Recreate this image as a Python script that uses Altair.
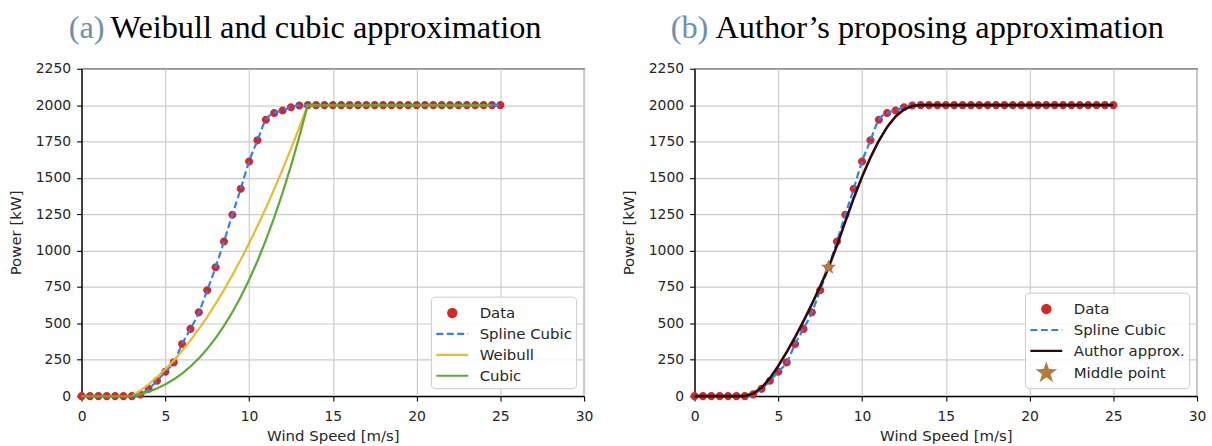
import math
import altair as alt
import pandas as pd

# ---------------- data ----------------
speeds = [0.0, 0.5, 1.0, 1.5, 2.0, 2.5, 3.0, 3.5, 4.0, 4.5, 5.0, 5.5, 6.0, 6.5, 7.0,
          7.5, 8.0, 8.5, 9.0, 9.5, 10.0, 10.5, 11.0, 11.5, 12.0, 12.5, 13.0, 13.5,
          14.0, 14.5, 15.0, 15.5, 16.0, 16.5, 17.0, 17.5, 18.0, 18.5, 19.0, 19.5,
          20.0, 20.5, 21.0, 21.5, 22.0, 22.5, 23.0, 23.5, 24.0, 24.5, 25.0]

data_power = ([0, 0, 0, 0, 0, 0, 0,
               12, 50, 106, 168, 232, 358, 462, 576, 728, 886, 1063, 1247, 1425,
               1613, 1758, 1900, 1946, 1963, 1986, 1998] + [2000] * 24)

approx_speeds = speeds[:50]          # 0 .. 24.5
weibull_power = ([0, 0, 0, 0, 0, 0, 0,
                  37, 81, 130, 185, 245, 312, 384, 462, 545, 635, 730, 831, 938,
                  1051, 1169, 1293, 1423, 1558, 1700, 1847] + [2000] * 23)
cubic_power = ([0, 0, 0, 0, 0, 0, 0,
                13, 30, 53, 81, 115, 155, 204, 260, 325, 399, 483, 577, 682,
                800, 929, 1072, 1228, 1398, 1583, 1784] + [2000] * 23)

author_power = ([0, 0, 0, 0, 0, 0, 0,
                 18, 58, 123, 208, 303, 405, 515, 632, 755, 885, 1035, 1200, 1360,
                 1508, 1640, 1755, 1850, 1922, 1970, 1995] + [2000] * 24)

middle_speed = [8.0]
middle_power = [885]

x_ticks = [0, 5, 10, 15, 20, 25, 30]
y_ticks = [0, 250, 500, 750, 1000, 1250, 1500, 1750, 2000, 2250]

names_a = ["Data", "Spline Cubic", "Weibull", "Cubic"]
names_b = ["Data", "Spline Cubic", "Author approx.", "Middle point"]

# ---------------- styling ----------------
FONT = "DejaVu Sans"
SERIF = "Liberation Serif"
TXT = "#262626"
RED = "#d62728"
BLUE = "#2f80ff"
YELLOW = "#e6bb2e"
GREEN = "#5aab32"
DARK = "#2a0a0a"
STAR = "#b57b3c"
CAPTION = "#6f8faf"

SYM = 484  # symbol area -> path unit = 11 px
CIRCLE = "M-0.37,0A0.37,0.37 0 1,1 0.37,0A0.37,0.37 0 1,1 -0.37,0Z"
LINE = "M-1.455,0L1.455,0"


def star_path(ro, ri):
    pts = []
    for k in range(10):
        ang = math.radians(-90 + 36 * k)
        r = ro if k % 2 == 0 else ri
        pts.append(f"{r * math.cos(ang):.4f},{r * math.sin(ang):.4f}")
    return "M" + "L".join(pts) + "Z"


STARP = star_path(0.745, 0.29)
SOLID = [1, 0]
DASH = [7, 3.5]


def frame(speed, power, name):
    return pd.DataFrame({"speed": speed, "power": power, "series": [name] * len(speed)})


xaxis = alt.Axis(values=x_ticks, grid=True, gridColor="#cccccc", gridWidth=1.2,
                 domainColor="black", domainWidth=1.2, tickColor="black", tickSize=5,
                 tickWidth=1.1, labelFont=FONT, labelFontSize=14, labelColor=TXT,
                 labelPadding=8.5, labelFlush=False, title="Wind Speed [m/s]",
                 titleFont=FONT, titleFontSize=15, titleFontWeight="normal",
                 titleColor=TXT, titlePadding=5.5, format="d")
yaxis = alt.Axis(values=y_ticks, grid=True, gridColor="#cccccc", gridWidth=1.2,
                 domainColor="black", domainWidth=1.2, tickColor="black", tickSize=5,
                 tickWidth=1.1, labelFont=FONT, labelFontSize=14, labelColor=TXT,
                 labelPadding=6, labelFlush=False, title="Power [kW]",
                 titleFont=FONT, titleFontSize=15, titleFontWeight="normal",
                 titleColor=TXT, titlePadding=11.5, format="d")

X = alt.X("speed:Q", scale=alt.Scale(domain=[0, 30], nice=False, zero=False), axis=xaxis)
Y = alt.Y("power:Q", scale=alt.Scale(domain=[0, 2250], nice=False), axis=yaxis)

legend = alt.Legend(title=None, orient="bottom-right", offset=8, padding=4,
                    cornerRadius=4, strokeColor="#cccccc",
                    fillColor="rgba(255,255,255,0.85)", labelFont=FONT,
                    labelFontSize=15, labelColor=TXT, symbolSize=SYM,
                    symbolStrokeWidth=2.2, symbolFillColor="#ffffff",
                    symbolStrokeColor="#ffffff", symbolOffset=5, labelOffset=15,
                    rowPadding=0, labelLimit=300)


def panel(letter, caption, lx, cx, names, colors, shapes, dashes, points, lines):
    cscale = alt.Scale(domain=names, range=colors)
    sscale = alt.Scale(domain=names, range=shapes)
    dscale = alt.Scale(domain=names, range=dashes)
    color = alt.Color("series:N", scale=cscale, legend=legend)
    layers = []
    for df in points[:1]:
        layers.append(alt.Chart(df).mark_point(filled=True, size=SYM, opacity=1).encode(
            x=X, y=Y, color=color,
            shape=alt.Shape("series:N", scale=sscale, legend=legend)))
    for df, interp, width in lines:
        layers.append(alt.Chart(df).mark_line(strokeWidth=width, interpolate=interp).encode(
            x=X, y=Y, color=color,
            strokeDash=alt.StrokeDash("series:N", scale=dscale, legend=legend)))
    for df in points[1:]:
        layers.append(alt.Chart(df).mark_point(filled=True, size=SYM, opacity=1).encode(
            x=X, y=Y, color=color,
            shape=alt.Shape("series:N", scale=sscale, legend=legend)))
    cap1 = alt.Chart(pd.DataFrame({"t": [letter]})).mark_text(
        align="left", baseline="alphabetic", font=SERIF, fontSize=32.5, color=CAPTION
    ).encode(x=alt.value(lx), y=alt.value(-31), text="t:N")
    cap2 = alt.Chart(pd.DataFrame({"t": [caption]})).mark_text(
        align="left", baseline="alphabetic", font=SERIF, fontSize=32.5, color="black"
    ).encode(x=alt.value(cx), y=alt.value(-31), text="t:N")
    layers += [cap1, cap2]
    return alt.layer(*layers).properties(width=505, height=329)


left = panel(
    "(a)", "Weibull and cubic approximation", -13, 29, names_a,
    [RED, BLUE, YELLOW, GREEN], [CIRCLE, LINE, LINE, LINE], [SOLID, DASH, SOLID, SOLID],
    [frame(speeds, data_power, "Data")],
    [(frame(speeds, data_power, "Spline Cubic"), "monotone", 2.2),
     (frame(approx_speeds, weibull_power, "Weibull"), "linear", 2.2),
     (frame(approx_speeds, cubic_power, "Cubic"), "linear", 2.2)],
)

right = panel(
    "(b)", "Author\u2019s proposing approximation", -24, 21, names_b,
    [RED, BLUE, DARK, STAR], [CIRCLE, LINE, LINE, STARP], [SOLID, DASH, SOLID, SOLID],
    [frame(speeds, data_power, "Data"), frame(middle_speed, middle_power, "Middle point")],
    [(frame(speeds, data_power, "Spline Cubic"), "monotone", 2.2),
     (frame(speeds, author_power, "Author approx."), "linear", 2.6)],
)

chart = (
    alt.hconcat(left, right, spacing=27)
    .resolve_scale(color="independent", shape="independent", strokeDash="independent")
    .configure(font=FONT, padding={"left": 8, "top": 10, "right": 5, "bottom": 0},
               background="white")
    .configure_view(stroke="black", strokeWidth=1.2)
)

chart.save("out.html", embed_options={"renderer": "svg", "actions": False})
